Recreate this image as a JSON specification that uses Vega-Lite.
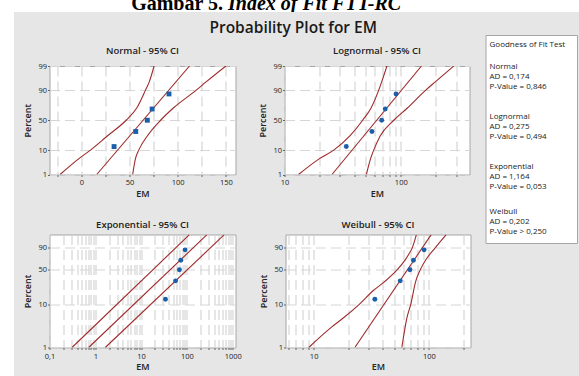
{
  "$schema": "https://vega.github.io/schema/vega-lite/v6.json",
  "background": "#e6e6e6",
  "padding": 0,
  "spacing": 0,
  "config": {
    "font": "Open Sans",
    "view": {"stroke": "#a6a6a6", "fill": "white"},
    "axis": {"labelFont": "Open Sans", "labelFontSize": 7.5, "labelColor": "#222222", "titleFont": "Open Sans", "titleFontSize": 9, "titleFontWeight": 600, "titleColor": "#222222", "domain": false, "tickColor": "#666666", "tickSize": 2, "labelPadding": 1, "gridColor": "#d6d6d6", "gridDash": [10, 5], "gridWidth": 1.2, "labelFlush": false, "labelOverlap": false, "labelBound": false, "tickCount": 1000},
    "title": {"font": "Open Sans", "fontSize": 9.5, "fontWeight": 600, "color": "#222222"}
  },
  "hconcat": [
    {"width": 14, "height": 376, "view": {"stroke": null, "fill": "white"}, "data": {"values": [{}]}, "mark": {"type": "text", "text": "", "fontSize": 0.1}},
    {
      "spacing": 9,
      "vconcat": [
        {
          "width": 565, "height": 12, "view": {"stroke": null, "fill": "white"},
          "data": {"values": [{"part": "Gambar 5.", "style": "normal"}, {"part": "Index of Fit FTT-RC", "style": "italic"}]},
          "layer": [
            {"transform": [{"filter": "datum.style === 'normal'"}], "mark": {"type": "text", "font": "Liberation Serif", "fontSize": 20, "fontWeight": "bold", "align": "right", "baseline": "alphabetic", "dx": -73.5, "dy": 4, "clip": true, "color": "#000000"}, "encoding": {"text": {"field": "part"}}},
            {"transform": [{"filter": "datum.style === 'italic'"}], "mark": {"type": "text", "font": "Liberation Serif", "fontSize": 20, "fontStyle": "italic", "fontWeight": "bold", "align": "left", "baseline": "alphabetic", "dx": -68.5, "dy": 4, "clip": true, "color": "#000000"}, "encoding": {"text": {"field": "part"}}}
          ]
        },
        {
          "spacing": 7.5,
          "hconcat": [
            {"width": 1, "height": 1, "view": {"stroke": null, "fill": null}, "data": {"values": [{}]}, "mark": {"type": "text", "text": "", "fontSize": 0.1}},
            {
              "spacing": 13,
              "hconcat": [
                {
                  "title": {"text": "Probability Plot for EM", "anchor": "middle", "fontSize": 15.5, "fontWeight": 600, "offset": -1.5, "dx": 46, "color": "#1a1a1a"},
                  "spacing": 9,
                  "vconcat": [
                    {"width": 1, "height": 1, "view": {"stroke": null, "fill": null}, "data": {"values": [{}]}, "mark": {"type": "text", "text": "", "fontSize": 0.1}},
                    {
                      "spacing": 20.5,
                      "vconcat": [
                        {
                          "spacing": 21,
                          "hconcat": [
                            {
                              "width": 186, "height": 108.5,
                              "title": {"text": "Normal - 95% CI", "offset": 7},
                              "layer": [
                                {
                                  "data": {"values": [
                                    {"curve": "fit", "em": 16, "pct": 1, "z": -2.3263},
                                    {"curve": "fit", "em": 112.3, "pct": 99, "z": 2.3263},
                                    {"curve": "lower", "em": -22, "pct": 1, "z": -2.3263},
                                    {"curve": "lower", "em": -2.5, "pct": 5, "z": -1.6449},
                                    {"curve": "lower", "em": 9.5, "pct": 10, "z": -1.2816},
                                    {"curve": "lower", "em": 27, "pct": 25, "z": -0.6745},
                                    {"curve": "lower", "em": 46.5, "pct": 50, "z": 0},
                                    {"curve": "lower", "em": 57.5, "pct": 70, "z": 0.5244},
                                    {"curve": "lower", "em": 66.5, "pct": 90, "z": 1.2816},
                                    {"curve": "lower", "em": 70.5, "pct": 95, "z": 1.6449},
                                    {"curve": "lower", "em": 75.5, "pct": 99, "z": 2.3263},
                                    {"curve": "upper", "em": 53.3, "pct": 1, "z": -2.3263},
                                    {"curve": "upper", "em": 56.2, "pct": 5, "z": -1.6449},
                                    {"curve": "upper", "em": 59.6, "pct": 10, "z": -1.2816},
                                    {"curve": "upper", "em": 68.5, "pct": 25, "z": -0.6745},
                                    {"curve": "upper", "em": 82.3, "pct": 50, "z": 0},
                                    {"curve": "upper", "em": 95.5, "pct": 70, "z": 0.5244},
                                    {"curve": "upper", "em": 119, "pct": 90, "z": 1.2816},
                                    {"curve": "upper", "em": 129.5, "pct": 95, "z": 1.6449},
                                    {"curve": "upper", "em": 150, "pct": 99, "z": 2.3263}
                                  ]},
                                  "mark": {"type": "line", "color": "#9e2b2b", "strokeWidth": 1.1, "interpolate": "monotone", "clip": true},
                                  "encoding": {
                                    "x": {"field": "em", "type": "quantitative", "scale": {"domain": [-33, 160], "nice": false, "zero": false},
                                          "axis": {"title": "EM", "values": [-25, 0, 25, 50, 75, 100, 125, 150], "labelExpr": "datum.value === 0 ? '0' : datum.value === 50 ? '50' : datum.value === 100 ? '100' : datum.value === 150 ? '150' : ''", "labelPadding": 2, "titlePadding": 3.5}},
                                    "y": {"field": "z", "type": "quantitative", "scale": {"domain": [-2.3263, 2.3263], "nice": false, "zero": false},
                                          "axis": {"title": "Percent", "values": [-2.3263, -1.2816, 0, 1.2816, 2.3263], "labelExpr": "datum.value < -2 ? '1' : datum.value < -1 ? '10' : datum.value < 1 ? '50' : datum.value < 2 ? '90' : '99'", "titlePadding": 5}},
                                    "detail": {"field": "curve", "type": "nominal"},
                                    "order": {"field": "z", "type": "quantitative"}
                                  }
                                },
                                {
                                  "data": {"values": [
                                    {"em": 34, "pct": 12.96, "z": -1.1285},
                                    {"em": 56.5, "pct": 31.48, "z": -0.4822},
                                    {"em": 68.5, "pct": 50, "z": 0},
                                    {"em": 73.5, "pct": 68.52, "z": 0.4822},
                                    {"em": 91, "pct": 87.04, "z": 1.1285}
                                  ]},
                                  "mark": {"type": "square", "filled": true, "color": "#1b5faa", "size": 24, "opacity": 1},
                                  "encoding": {"x": {"field": "em", "type": "quantitative"}, "y": {"field": "z", "type": "quantitative"}}
                                }
                              ]
                            },
                            {
                              "width": 185, "height": 108.5,
                              "title": {"text": "Lognormal - 95% CI", "offset": 7},
                              "layer": [
                                {
                                  "data": {"values": [
                                    {"curve": "fit", "em": 25.6, "pct": 1, "z": -2.3263},
                                    {"curve": "fit", "em": 150.7, "pct": 99, "z": 2.3263},
                                    {"curve": "lower", "em": 13.2, "pct": 1, "z": -2.3263},
                                    {"curve": "lower", "em": 20, "pct": 5, "z": -1.6449},
                                    {"curve": "lower", "em": 26.5, "pct": 10, "z": -1.2816},
                                    {"curve": "lower", "em": 36.5, "pct": 25, "z": -0.6745},
                                    {"curve": "lower", "em": 47, "pct": 50, "z": 0},
                                    {"curve": "lower", "em": 55.5, "pct": 70, "z": 0.5244},
                                    {"curve": "lower", "em": 64.5, "pct": 90, "z": 1.2816},
                                    {"curve": "lower", "em": 68.5, "pct": 95, "z": 1.6449},
                                    {"curve": "lower", "em": 76, "pct": 99, "z": 2.3263},
                                    {"curve": "upper", "em": 50.6, "pct": 1, "z": -2.3263},
                                    {"curve": "upper", "em": 55, "pct": 5, "z": -1.6449},
                                    {"curve": "upper", "em": 58.5, "pct": 10, "z": -1.2816},
                                    {"curve": "upper", "em": 66.5, "pct": 25, "z": -0.6745},
                                    {"curve": "upper", "em": 87, "pct": 50, "z": 0},
                                    {"curve": "upper", "em": 114, "pct": 70, "z": 0.5244},
                                    {"curve": "upper", "em": 163, "pct": 90, "z": 1.2816},
                                    {"curve": "upper", "em": 198, "pct": 95, "z": 1.6449},
                                    {"curve": "upper", "em": 286, "pct": 99, "z": 2.3263}
                                  ]},
                                  "mark": {"type": "line", "color": "#9e2b2b", "strokeWidth": 1.1, "interpolate": "monotone", "clip": true},
                                  "encoding": {
                                    "x": {"field": "em", "type": "quantitative", "scale": {"type": "log", "domain": [10, 390], "nice": false},
                                          "axis": {"title": "EM", "values": [10, 20, 30, 40, 50, 60, 70, 80, 90, 100, 200, 300], "labelExpr": "datum.value === 10 ? '10' : datum.value === 100 ? '100' : ''", "labelPadding": 2, "titlePadding": 3.5}},
                                    "y": {"field": "z", "type": "quantitative", "scale": {"domain": [-2.3263, 2.3263], "nice": false, "zero": false},
                                          "axis": {"title": "Percent", "values": [-2.3263, -1.2816, 0, 1.2816, 2.3263], "labelExpr": "datum.value < -2 ? '1' : datum.value < -1 ? '10' : datum.value < 1 ? '50' : datum.value < 2 ? '90' : '99'", "titlePadding": 5}},
                                    "detail": {"field": "curve", "type": "nominal"},
                                    "order": {"field": "z", "type": "quantitative"}
                                  }
                                },
                                {
                                  "data": {"values": [
                                    {"em": 34, "pct": 12.96, "z": -1.1285},
                                    {"em": 56.5, "pct": 31.48, "z": -0.4822},
                                    {"em": 68.5, "pct": 50, "z": 0},
                                    {"em": 73.5, "pct": 68.52, "z": 0.4822},
                                    {"em": 91, "pct": 87.04, "z": 1.1285}
                                  ]},
                                  "mark": {"type": "circle", "color": "#1b5faa", "size": 24, "opacity": 1},
                                  "encoding": {"x": {"field": "em", "type": "quantitative"}, "y": {"field": "z", "type": "quantitative"}}
                                }
                              ]
                            }
                          ]
                        },
                        {
                          "spacing": 16,
                          "hconcat": [
                            {
                              "width": 186, "height": 113,
                              "title": {"text": "Exponential - 95% CI", "offset": 5},
                              "layer": [
                                {
                                  "data": {"values": [
                                    {"curve": "fit", "em": 0.715, "pct": 1, "w": -4.6002},
                                    {"curve": "fit", "em": 270.6, "pct": 99, "w": 1.5272},
                                    {"curve": "lower", "em": 0.31, "pct": 1, "w": -4.6002},
                                    {"curve": "lower", "em": 112, "pct": 99, "w": 1.5272},
                                    {"curve": "upper", "em": 1.65, "pct": 1, "w": -4.6002},
                                    {"curve": "upper", "em": 646, "pct": 99, "w": 1.5272}
                                  ]},
                                  "mark": {"type": "line", "color": "#9e2b2b", "strokeWidth": 1.1, "clip": true},
                                  "encoding": {
                                    "x": {"field": "em", "type": "quantitative", "scale": {"type": "log", "domain": [0.1, 1150], "nice": false},
                                          "axis": {"title": "EM", "values": [0.1, 0.2, 0.3, 0.4, 0.5, 0.6, 0.7, 0.8, 0.9, 1, 2, 3, 4, 5, 6, 7, 8, 9, 10, 20, 30, 40, 50, 60, 70, 80, 90, 100, 200, 300, 400, 500, 600, 700, 800, 900, 1000], "labelExpr": "datum.value === 0.1 ? '0,1' : datum.value === 1 ? '1' : datum.value === 10 ? '10' : datum.value === 100 ? '100' : datum.value === 1000 ? '1000' : ''", "labelPadding": 3, "titlePadding": 2.5}},
                                    "y": {"field": "w", "type": "quantitative", "scale": {"domain": [-4.6002, 1.55], "nice": false, "zero": false},
                                          "axis": {"title": "Percent", "values": [-4.6002, -2.2504, -0.3665, 0.834], "labelExpr": "datum.value < -4 ? '1' : datum.value < -1 ? '10' : datum.value < 0 ? '50' : '90'", "titlePadding": 5}},
                                    "detail": {"field": "curve", "type": "nominal"},
                                    "order": {"field": "w", "type": "quantitative"}
                                  }
                                },
                                {
                                  "data": {"values": [
                                    {"em": 34, "pct": 12.96, "w": -1.975},
                                    {"em": 56.5, "pct": 31.48, "w": -0.9726},
                                    {"em": 68.5, "pct": 50, "w": -0.3665},
                                    {"em": 73.5, "pct": 68.52, "w": 0.1445},
                                    {"em": 91, "pct": 87.04, "w": 0.7146}
                                  ]},
                                  "mark": {"type": "circle", "color": "#1b5faa", "size": 24, "opacity": 1},
                                  "encoding": {"x": {"field": "em", "type": "quantitative"}, "y": {"field": "w", "type": "quantitative"}}
                                }
                              ]
                            },
                            {
                              "width": 185, "height": 113,
                              "title": {"text": "Weibull - 95% CI", "offset": 5},
                              "layer": [
                                {
                                  "data": {"values": [
                                    {"curve": "fit", "em": 22.8, "pct": 1, "w": -4.6002},
                                    {"curve": "fit", "em": 104.5, "pct": 99, "w": 1.5272},
                                    {"curve": "lower", "em": 9.06, "pct": 1, "w": -4.6002},
                                    {"curve": "lower", "em": 14.3, "pct": 3, "w": -3.4914},
                                    {"curve": "lower", "em": 18.3, "pct": 5, "w": -2.9702},
                                    {"curve": "lower", "em": 24.9, "pct": 10, "w": -2.2504},
                                    {"curve": "lower", "em": 33, "pct": 20, "w": -1.4999},
                                    {"curve": "lower", "em": 41.1, "pct": 30, "w": -1.0309},
                                    {"curve": "lower", "em": 53.2, "pct": 50, "w": -0.3665},
                                    {"curve": "lower", "em": 62.6, "pct": 70, "w": 0.1856},
                                    {"curve": "lower", "em": 67, "pct": 80, "w": 0.4759},
                                    {"curve": "lower", "em": 71.9, "pct": 90, "w": 0.834},
                                    {"curve": "lower", "em": 74.3, "pct": 95, "w": 1.0972},
                                    {"curve": "lower", "em": 77.8, "pct": 99, "w": 1.5272},
                                    {"curve": "upper", "em": 58.3, "pct": 1, "w": -4.6002},
                                    {"curve": "upper", "em": 64.6, "pct": 5, "w": -2.9702},
                                    {"curve": "upper", "em": 69.7, "pct": 10, "w": -2.2504},
                                    {"curve": "upper", "em": 76.7, "pct": 30, "w": -1.0309},
                                    {"curve": "upper", "em": 84.3, "pct": 50, "w": -0.3665},
                                    {"curve": "upper", "em": 94.5, "pct": 70, "w": 0.1856},
                                    {"curve": "upper", "em": 114, "pct": 90, "w": 0.834},
                                    {"curve": "upper", "em": 141, "pct": 99, "w": 1.5272}
                                  ]},
                                  "mark": {"type": "line", "color": "#9e2b2b", "strokeWidth": 1.1, "interpolate": "monotone", "clip": true},
                                  "encoding": {
                                    "x": {"field": "em", "type": "quantitative", "scale": {"type": "log", "domain": [5.7, 230], "nice": false},
                                          "axis": {"title": "EM", "values": [6, 7, 8, 9, 10, 20, 30, 40, 50, 60, 70, 80, 90, 100, 200], "labelExpr": "datum.value === 10 ? '10' : datum.value === 100 ? '100' : ''", "labelPadding": 3, "titlePadding": 2.5}},
                                    "y": {"field": "w", "type": "quantitative", "scale": {"domain": [-4.6002, 1.55], "nice": false, "zero": false},
                                          "axis": {"title": "Percent", "values": [-4.6002, -2.2504, -0.3665, 0.834], "labelExpr": "datum.value < -4 ? '1' : datum.value < -1 ? '10' : datum.value < 0 ? '50' : '90'", "titlePadding": 5}},
                                    "detail": {"field": "curve", "type": "nominal"},
                                    "order": {"field": "w", "type": "quantitative"}
                                  }
                                },
                                {
                                  "data": {"values": [
                                    {"em": 34, "pct": 12.96, "w": -1.975},
                                    {"em": 56.5, "pct": 31.48, "w": -0.9726},
                                    {"em": 68.5, "pct": 50, "w": -0.3665},
                                    {"em": 73.5, "pct": 68.52, "w": 0.1445},
                                    {"em": 91, "pct": 87.04, "w": 0.7146}
                                  ]},
                                  "mark": {"type": "circle", "color": "#1b5faa", "size": 24, "opacity": 1},
                                  "encoding": {"x": {"field": "em", "type": "quantitative"}, "y": {"field": "w", "type": "quantitative"}}
                                }
                              ]
                            }
                          ]
                        }
                      ]
                    }
                  ]
                },
                {
                  "width": 91.5, "height": 208,
                  "view": {"stroke": "#a6a6a6", "fill": "white"},
                  "data": {"values": [
                    {"line": 1, "text": "Goodness of Fit Test"},
                    {"line": 3.2, "text": "Normal"},
                    {"line": 4.2, "text": "AD = 0,174"},
                    {"line": 5.2, "text": "P-Value = 0,846"},
                    {"line": 8.2, "text": "Lognormal"},
                    {"line": 9.2, "text": "AD = 0,275"},
                    {"line": 10.2, "text": "P-Value = 0,494"},
                    {"line": 13.2, "text": "Exponential"},
                    {"line": 14.2, "text": "AD = 1,164"},
                    {"line": 15.2, "text": "P-Value = 0,053"},
                    {"line": 17.7, "text": "Weibull"},
                    {"line": 18.7, "text": "AD = 0,202"},
                    {"line": 19.7, "text": "P-Value > 0,250"}
                  ]},
                  "mark": {"type": "text", "align": "left", "baseline": "middle", "dx": -41.75, "fontSize": 8, "font": "Open Sans", "color": "#1a1a1a"},
                  "encoding": {
                    "y": {"field": "line", "type": "quantitative", "scale": {"domain": [0, 20.8], "reverse": true, "nice": false, "zero": false}, "axis": null},
                    "text": {"field": "text", "type": "nominal"}
                  }
                }
              ]
            }
          ]
        }
      ]
    }
  ]
}
